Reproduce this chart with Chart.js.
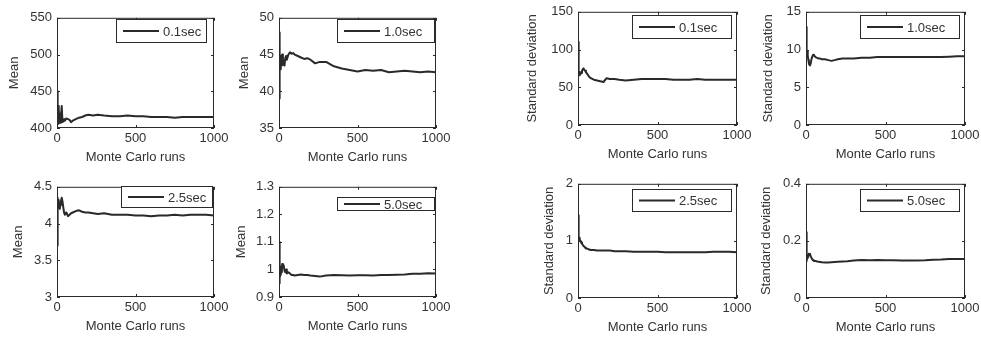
<!DOCTYPE html>
<html>
<head>
<meta charset="utf-8">
<script src="https://cdn.jsdelivr.net/npm/chart.js@4.4.0/dist/chart.umd.min.js"></script>
<style>
  body { margin: 0; background: #fff; }
  #wrap { position: relative; width: 981px; height: 337px; overflow: hidden; }
  canvas { position: absolute; }
</style>
</head>
<body>
<div id="wrap"></div>
<script>
const runs = [1,2,3,4,5,6,8,10,12,15,18,20,25,30,35,40,45,50,60,70,80,90,100,
  120,140,160,180,200,230,260,300,350,400,450,500,550,600,650,700,750,800,850,900,950,1000];

// mean
const mean01 = [450,418,432,405,428,412,430,406,425,410,420,407,415,430,408,409,412,410,413,412,411,408,410,
  412,414,415,417,418,417,418,417,416,416,417,416,416,415,415,415,414,415,415,415,415,415];
const mean10 = [48,39,41,44,43,44.5,43,44,44.8,43.5,44,45,43.6,44.2,43.5,44.5,44.8,44.3,45,45.3,45.1,45.2,45,
  44.8,44.6,44.4,44.5,44.3,43.8,44,44,43.4,43.1,42.9,42.7,42.9,42.8,42.9,42.6,42.7,42.8,42.7,42.6,42.7,42.6];
const mean25 = [3.7,4.3,4.05,4.35,4.2,4.3,4.25,4.32,4.22,4.28,4.2,4.25,4.3,4.35,4.3,4.22,4.15,4.12,4.15,4.1,4.12,4.14,4.15,
  4.17,4.18,4.16,4.15,4.15,4.14,4.13,4.14,4.12,4.12,4.12,4.11,4.11,4.1,4.11,4.11,4.12,4.11,4.12,4.12,4.12,4.11];
const mean50 = [1.1,0.95,1.03,0.97,1.0,0.97,0.98,1.01,0.98,1.0,0.99,1.02,1.01,1.015,0.995,0.99,1.0,0.985,0.99,0.985,0.98,0.98,0.978,
  0.98,0.982,0.98,0.98,0.978,0.976,0.974,0.978,0.98,0.979,0.978,0.979,0.979,0.978,0.98,0.98,0.981,0.982,0.984,0.984,0.986,0.985];

// standard deviation
const std01 = [110,85,70,72,66,70,68,66,70,68,70,69,72,74,75,73,72,70,67,64,62,61,60,
  59,58,57,62,61,61,60,59,60,61,61,61,61,60,60,60,61,60,60,60,60,60];
const std10 = [13,12,11,10,10.5,9.5,9.8,9,9.2,8.6,8.2,8.0,7.9,8.2,8.8,9.1,9.3,9.2,9.0,8.9,8.8,8.8,8.7,
  8.7,8.6,8.5,8.6,8.7,8.8,8.8,8.8,8.9,8.9,9.0,9.0,9.0,9.0,9.0,9.0,9.0,9.0,9.0,9.05,9.1,9.1];
const std25 = [1.45,1.3,1.2,1.15,1.1,1.08,1.05,1.03,1.02,1.0,0.98,0.97,0.95,0.93,0.91,0.9,0.88,0.87,0.86,0.85,0.84,0.84,0.84,
  0.83,0.83,0.83,0.83,0.83,0.82,0.82,0.82,0.81,0.81,0.81,0.81,0.8,0.8,0.8,0.8,0.8,0.8,0.81,0.81,0.81,0.8];
const std50 = [0.23,0.18,0.15,0.13,0.14,0.13,0.145,0.15,0.14,0.15,0.155,0.15,0.155,0.145,0.14,0.135,0.132,0.13,0.13,0.128,0.127,0.126,0.125,
  0.124,0.124,0.125,0.126,0.127,0.128,0.129,0.131,0.133,0.132,0.133,0.132,0.132,0.131,0.131,0.131,0.132,0.134,0.135,0.137,0.137,0.137];

const xTicks = [0, 500, 1000];

// layout: plot box [left, top, right, bottom], y axis width, legend box [x, y, w, h] (page pixels)
const panels = [
  {label:'0.1sec', ys:mean01, y:[400,550,50], title:'Mean', box:[57,15,214,128], yw:50, leg:[116,19,91,24]},
  {label:'1.0sec', ys:mean10, y:[35,50,5], title:'Mean', box:[279,15,436,128], yw:42, leg:[337,19,98,24]},
  {label:'2.5sec', ys:mean25, y:[3,4.5,0.5], title:'Mean', box:[57,184,214,297], yw:46, leg:[121,186,92,22]},
  {label:'5.0sec', ys:mean50, y:[0.9,1.3,0.1], title:'Mean', box:[279,184,436,297], yw:45, leg:[337,197,98,14]},
  {label:'0.1sec', ys:std01, y:[0,150,50], title:'Standard deviation', box:[578,9,737,125], yw:53, leg:[632,15,100,24]},
  {label:'1.0sec', ys:std10, y:[0,15,5], title:'Standard deviation', box:[806,9,965,125], yw:45, leg:[860,15,100,24]},
  {label:'2.5sec', ys:std25, y:[0,2,1], title:'Standard deviation', box:[578,181,737,298], yw:36, leg:[632,189,100,23]},
  {label:'5.0sec', ys:std50, y:[0,0.4,0.2], title:'Standard deviation', box:[806,181,965,298], yw:47, leg:[860,189,100,23]}
];

Chart.defaults.font.family = "'Liberation Sans', Arial, Helvetica, sans-serif";
Chart.defaults.font.size = 13;
Chart.defaults.color = '#333';

const ink = '#2a2a2a';

// box around the axes, inward ticks on all four sides, legend in the corner
const frame = {
  id: 'frame',
  afterDatasetsDraw(chart, args, o) {
    const {ctx, chartArea: a, scales: {x, y}} = chart;
    ctx.save();
    ctx.strokeStyle = ink;
    ctx.lineWidth = 1;
    ctx.strokeRect(a.left + 0.5, a.top + 0.5, a.right - a.left - 1, a.bottom - a.top - 1);
    ctx.beginPath();
    x.ticks.forEach(t => {
      const px = Math.round(x.getPixelForValue(t.value)) + 0.5;
      ctx.moveTo(px, a.bottom); ctx.lineTo(px, a.bottom - 3);
      ctx.moveTo(px, a.top); ctx.lineTo(px, a.top + 3);
    });
    y.ticks.forEach(t => {
      const py = Math.round(y.getPixelForValue(t.value)) + 0.5;
      ctx.moveTo(a.left, py); ctx.lineTo(a.left + 3, py);
      ctx.moveTo(a.right, py); ctx.lineTo(a.right - 3, py);
    });
    ctx.stroke();

    const [lx, ly, lw, lh] = o.leg;
    ctx.fillStyle = '#fff';
    ctx.fillRect(lx, ly, lw, lh);
    ctx.strokeRect(lx + 0.5, ly + 0.5, lw - 1, lh - 1);
    const cy = ly + lh / 2;
    ctx.lineWidth = 2;
    ctx.beginPath();
    ctx.moveTo(lx + 7, cy); ctx.lineTo(lx + 43, cy);
    ctx.stroke();
    ctx.fillStyle = '#333';
    ctx.font = "13px 'Liberation Sans', Arial, sans-serif";
    ctx.textBaseline = 'middle';
    ctx.fillText(chart.data.datasets[0].label, lx + 47, cy + 1);
    ctx.restore();
  }
};

const wrap = document.getElementById('wrap');
const padTop = 10, padRight = 20, xh = 37;

panels.forEach(p => {
  const [l, t, r, b] = p.box;
  const left = l - p.yw, top = t - padTop;
  const cv = document.createElement('canvas');
  cv.width = p.yw + (r - l) + padRight;
  cv.height = padTop + (b - t) + xh;
  cv.style.left = left + 'px';
  cv.style.top = top + 'px';
  wrap.appendChild(cv);

  new Chart(cv, {
    type: 'line',
    data: {
      datasets: [{
        label: p.label,
        data: runs.map((r, i) => ({x: r, y: p.ys[i]})),
        borderColor: ink,
        borderWidth: 2,
        pointRadius: 0,
        tension: 0,
        borderJoinStyle: 'round'
      }]
    },
    options: {
      responsive: false,
      animation: false,
      events: [],
      layout: {padding: {top: padTop, right: padRight, left: 0, bottom: 0}},
      plugins: {
        legend: {display: false},
        tooltip: {enabled: false},
        frame: {leg: [p.leg[0] - left, p.leg[1] - top, p.leg[2], p.leg[3]]}
      },
      scales: {
        x: {
          type: 'linear', min: 0, max: 1000,
          afterBuildTicks: s => { s.ticks = xTicks.map(v => ({value: v})); },
          afterFit: s => { s.height = xh; },
          grid: {display: false, drawTicks: false},
          border: {display: false},
          ticks: {padding: 3, maxRotation: 0, autoSkip: false, callback: v => String(v)},
          title: {display: true, text: 'Monte Carlo runs', padding: 0}
        },
        y: {
          min: p.y[0], max: p.y[1],
          afterFit: s => { s.width = p.yw; },
          grid: {display: false, drawTicks: false},
          border: {display: false},
          ticks: {stepSize: p.y[2], padding: 5, callback: v => String(+v.toFixed(3))},
          title: {display: true, text: p.title, padding: 0}
        }
      }
    },
    plugins: [frame]
  });
});
</script>
</body>
</html>
